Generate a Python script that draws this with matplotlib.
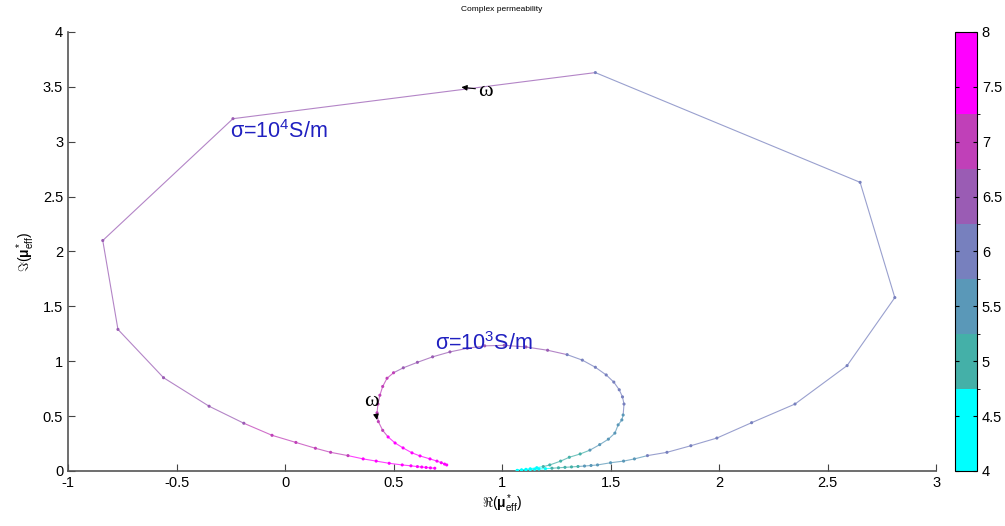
import numpy as np
import matplotlib
matplotlib.use('Agg')
import matplotlib.pyplot as plt
from matplotlib.collections import LineCollection
from matplotlib.colors import ListedColormap, BoundaryNorm

plt.rcParams['font.family'] = ['Liberation Sans', 'DejaVu Sans']
plt.rcParams['mathtext.fontset'] = 'custom'
plt.rcParams['mathtext.rm'] = 'Liberation Sans'
plt.rcParams['mathtext.it'] = 'Liberation Sans'
plt.rcParams['mathtext.bf'] = 'Liberation Sans:bold'

# sigma = 1e4 S/m  (low -> high frequency)
re_hi = [1.07, 1.09, 1.11, 1.13, 1.15, 1.17, 1.20, 1.23, 1.26, 1.29, 1.32, 1.35,
         1.38, 1.41, 1.44, 1.50, 1.56, 1.61, 1.67, 1.76, 1.87, 1.99, 2.15, 2.35,
         2.59, 2.81, 2.65, 1.43, -0.24, -0.84, -0.77, -0.56, -0.35, -0.19, -0.06,
         0.05, 0.14, 0.21, 0.29, 0.36, 0.42, 0.48, 0.54, 0.58, 0.61, 0.63, 0.65,
         0.67, 0.69]
im_hi = [0.005, 0.008, 0.010, 0.012, 0.015, 0.018, 0.021, 0.025, 0.029, 0.033,
         0.037, 0.041, 0.045, 0.050, 0.055, 0.075, 0.09, 0.11, 0.14, 0.17, 0.23,
         0.30, 0.44, 0.61, 0.96, 1.58, 2.63, 3.63, 3.21, 2.10, 1.29, 0.85, 0.59,
         0.435, 0.325, 0.26, 0.207, 0.17, 0.14, 0.11, 0.09, 0.07, 0.055, 0.047,
         0.040, 0.036, 0.032, 0.028, 0.025]
lf_hi = [4.0, 4.1, 4.2, 4.3, 4.4, 4.5, 4.65, 4.8, 4.9, 5.0, 5.1, 5.2, 5.3, 5.4,
         5.5, 5.6, 5.65, 5.7, 5.75, 5.8, 5.85, 5.9, 5.95, 6.0, 6.05, 6.1, 6.15,
         6.2, 6.3, 6.35, 6.4, 6.5, 6.6, 6.7, 6.8, 6.9, 7.0, 7.1, 7.2, 7.3, 7.4,
         7.5, 7.6, 7.7, 7.75, 7.8, 7.85, 7.9, 8.0]

# sigma = 1e3 S/m
re_lo = [1.07, 1.09, 1.11, 1.13, 1.16, 1.19, 1.22, 1.27, 1.31, 1.36, 1.405, 1.45,
         1.49, 1.52, 1.535, 1.552, 1.558, 1.562, 1.555, 1.54, 1.515, 1.48, 1.43,
         1.37, 1.30, 1.21, 1.11, 1.01, 0.92, 0.84, 0.76, 0.68, 0.61, 0.545, 0.50,
         0.47, 0.45, 0.437, 0.428, 0.424, 0.43, 0.45, 0.475, 0.507, 0.544, 0.585,
         0.622, 0.668, 0.70, 0.72, 0.735, 0.745]
im_lo = [0.005, 0.01, 0.015, 0.02, 0.03, 0.04, 0.055, 0.09, 0.125, 0.155, 0.19,
         0.24, 0.29, 0.345, 0.42, 0.465, 0.51, 0.61, 0.675, 0.74, 0.81, 0.875,
         0.945, 1.01, 1.06, 1.10, 1.13, 1.145, 1.14, 1.118, 1.085, 1.04, 0.99,
         0.94, 0.895, 0.845, 0.77, 0.69, 0.61, 0.53, 0.45, 0.37, 0.31, 0.255, 0.21,
         0.165, 0.137, 0.11, 0.09, 0.075, 0.063, 0.055]
lf_lo = [4.0, 4.15, 4.3, 4.45, 4.6, 4.75, 4.85, 4.95, 5.05, 5.15, 5.25, 5.35,
         5.45, 5.55, 5.6, 5.65, 5.7, 5.8, 5.85, 5.9, 6.0, 6.05, 6.1, 6.15, 6.2,
         6.3, 6.35, 6.4, 6.45, 6.5, 6.55, 6.6, 6.65, 6.7, 6.75, 6.8, 6.85, 6.9,
         6.95, 7.0, 7.1, 7.2, 7.25, 7.3, 7.4, 7.5, 7.6, 7.7, 7.8, 7.85, 7.9, 8.0]

cb_edges = [4, 4.75, 5.25, 5.75, 6.25, 6.75, 7.25, 8]
cb_colors = ['#00ffff', '#44b0a8', '#5a98b8', '#7780be', '#9a5cb4', '#c040b8', '#ff00ff']
cmap = ListedColormap(cb_colors)
norm = BoundaryNorm(cb_edges, cmap.N)

fig = plt.figure(figsize=(10.05, 5.26), dpi=100)
ax = fig.add_axes([0.0677, 0.1046, 0.8637, 0.8346])

for xs, ys, cs in [(re_hi, im_hi, lf_hi), (re_lo, im_lo, lf_lo)]:
    pts = np.column_stack([xs, ys])
    segs = np.stack([pts[:-1], pts[1:]], axis=1)
    cmid = 0.5*(np.array(cs[:-1]) + np.array(cs[1:]))
    lc = LineCollection(segs, cmap=cmap, norm=norm, linewidths=0.8, alpha=0.75)
    lc.set_array(cmid)
    ax.add_collection(lc)
    ax.scatter(xs, ys, c=cs, cmap=cmap, norm=norm, s=5, zorder=3, linewidths=0)

ax.set_xlim(-1, 3)
ax.set_ylim(0, 4)
ax.set_xticks(np.arange(-1, 3.01, 0.5))
ax.set_yticks(np.arange(0, 4.01, 0.5))
ax.set_xticklabels(['-1', '-0.5', '0', '0.5', '1', '1.5', '2', '2.5', '3'])
ax.set_yticklabels(['0', '0.5', '1', '1.5', '2', '2.5', '3', '3.5', '4'])
ax.tick_params(direction='in', labelsize=10.5, length=5, color='#444444')
for s in ['top', 'right']:
    ax.spines[s].set_visible(False)
for s in ['left', 'bottom']:
    ax.spines[s].set_color('#555555')
    ax.spines[s].set_linewidth(1.2)

ax.set_xlabel(r'$\Re(\mathbf{\mu}^*_{\rm eff})$', fontsize=10, labelpad=2)
ax.set_ylabel(r'$\Im(\mathbf{\mu}^*_{\rm eff})$', fontsize=10, labelpad=4)
ax.set_title('Complex permeability', fontsize=6, pad=15)

ax.text(-0.255, 3.03, r'σ=10$^4$S/m', color='#2020c0', fontsize=15.5)
ax.text(0.69, 1.10, r'σ=10$^3$S/m', color='#2020c0', fontsize=15.5)

ax.annotate('', xy=(0.80, 3.50), xytext=(0.89, 3.48),
            arrowprops=dict(arrowstyle='-|>', color='black', lw=0.8, mutation_scale=8))
ax.text(0.89, 3.46, 'ω', fontsize=16, va='center', family='Liberation Serif')
ax.annotate('', xy=(0.426, 0.44), xytext=(0.418, 0.53),
            arrowprops=dict(arrowstyle='-|>', color='black', lw=0.8, mutation_scale=8))
ax.text(0.40, 0.63, 'ω', fontsize=16, ha='center', va='center', family='Liberation Serif')

cax = fig.add_axes([0.9502, 0.1046, 0.0219, 0.8346])
cb = fig.colorbar(plt.cm.ScalarMappable(norm=norm, cmap=cmap), cax=cax,
                  boundaries=cb_edges, spacing='proportional')
cb.set_ticks(np.arange(4, 8.01, 0.5))
cb.set_ticklabels(['4', '4.5', '5', '5.5', '6', '6.5', '7', '7.5', '8'])
cax.tick_params(direction='in', labelsize=10.5, length=3, left=True, right=True)
cb.outline.set_linewidth(0.8)

fig.savefig('out.png', dpi=100)
